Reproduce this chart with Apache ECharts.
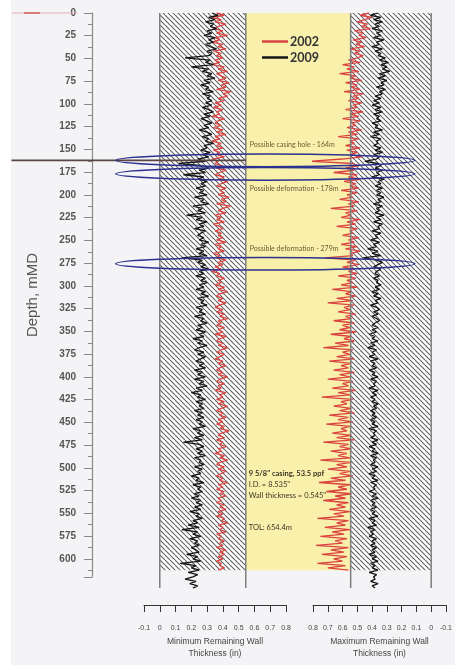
<!DOCTYPE html>
<html><head><meta charset="utf-8">
<script src="https://cdn.jsdelivr.net/npm/echarts@6/dist/echarts.min.js"></script>
<style>html,body{margin:0;padding:0;background:#f4f4f6}#c{width:455px;height:665px}</style>
</head><body><div id="c"></div>
<script>
// ---- data ----
// log samples: one value every depthStep metres, starting at depthStart
const depthStart = 0;
const depthStep = 2.5;

const min2002 = [
0.36,0.41,0.33,0.39,0.35,0.42,0.37,0.34,0.40,0.36,0.43,0.35,0.38,0.33,0.40,0.37,0.42,0.34,0.39,0.36,
0.40,0.35,0.38,0.33,0.41,0.37,0.43,0.36,0.39,0.42,0.37,0.44,0.39,0.42,0.36,0.45,0.40,0.43,0.37,0.41,
0.35,0.39,0.34,0.40,0.36,0.38,0.33,0.41,0.37,0.35,0.39,0.34,0.40,0.36,0.42,0.35,0.38,0.33,0.39,0.36,
0.40,0.34,0.38,0.36,0.41,0.33,0.37,0.35,0.40,0.36,0.42,0.38,0.35,0.41,0.37,0.43,0.39,0.36,0.42,0.38,
0.41,0.37,0.44,0.39,0.42,0.36,0.45,0.40,0.37,0.42,0.35,0.39,0.36,0.41,0.34,0.38,0.40,0.35,0.39,0.37,
0.40,0.36,0.42,0.35,0.39,0.37,0.41,0.34,0.38,0.36,0.42,0.37,0.40,0.35,0.39,0.33,0.38,0.36,0.41,0.37,
0.39,0.35,0.41,0.37,0.43,0.38,0.36,0.40,0.37,0.42,0.38,0.35,0.40,0.36,0.41,0.38,0.43,0.37,0.39,0.36,
0.41,0.37,0.40,0.35,0.42,0.38,0.36,0.40,0.37,0.43,0.39,0.36,0.41,0.38,0.35,0.40,0.37,0.42,0.38,0.36,
0.40,0.37,0.43,0.38,0.36,0.41,0.37,0.39,0.35,0.42,0.38,0.40,0.36,0.41,0.37,0.43,0.39,0.36,0.40,0.38,
0.42,0.37,0.40,0.36,0.41,0.38,0.44,0.39,0.37,0.41,0.36,0.40,0.38,0.42,0.37,0.39,0.35,0.41,0.38,0.43,
0.38,0.36,0.41,0.37,0.42,0.39,0.36,0.40,0.38,0.43,0.37,0.40,0.36,0.41,0.38,0.42,0.37,0.39,0.36,0.41,
0.38,0.42,0.37,0.40,0.36,0.41,0.39,0.43,0.37,0.40,0.38,0.42,0.36,0.39,0.37,0.41,0.38,0.40,0.36,0.42,
0.38,0.41,0.37,0.40,0.36,0.39,0.38,0.41,0.37];

const min2009 = [
0.33,0.37,0.31,0.35,0.29,0.34,0.32,0.36,0.30,0.33,0.28,0.35,0.31,0.34,0.29,0.32,0.36,0.30,0.33,0.31,
0.16,0.32,0.29,0.34,0.20,0.31,0.27,0.33,0.30,0.35,0.28,0.32,0.26,0.31,0.29,0.34,0.27,0.32,0.30,0.33,
0.29,0.33,0.27,0.31,0.34,0.28,0.32,0.26,0.30,0.33,0.28,0.31,0.25,0.30,0.33,0.27,0.31,0.29,0.34,0.28,
0.30,0.26,0.32,0.27,0.31,0.24,0.29,0.12,0.27,0.31,0.25,0.29,0.15,0.28,0.24,0.30,0.26,0.29,0.23,0.28,
0.25,0.30,0.22,0.28,0.26,0.31,0.21,0.27,0.24,0.29,0.17,0.27,0.23,0.30,0.25,0.28,0.22,0.29,0.26,0.24,
0.28,0.25,0.31,0.26,0.29,0.23,0.28,0.25,0.30,0.14,0.27,0.24,0.29,0.26,0.31,0.25,0.28,0.23,0.29,0.26,
0.30,0.25,0.28,0.23,0.29,0.26,0.31,0.24,0.28,0.26,0.30,0.23,0.27,0.25,0.29,0.22,0.28,0.26,0.30,0.24,
0.27,0.23,0.29,0.25,0.28,0.21,0.27,0.24,0.30,0.25,0.22,0.28,0.24,0.29,0.26,0.23,0.28,0.25,0.29,0.22,
0.27,0.24,0.29,0.22,0.28,0.25,0.30,0.23,0.27,0.20,0.26,0.24,0.29,0.23,0.27,0.25,0.28,0.22,0.27,0.24,
0.28,0.23,0.27,0.25,0.29,0.21,0.26,0.24,0.28,0.22,0.27,0.15,0.25,0.28,0.23,0.27,0.24,0.29,0.22,0.26,
0.25,0.28,0.22,0.27,0.24,0.26,0.20,0.25,0.23,0.28,0.21,0.26,0.24,0.27,0.22,0.25,0.20,0.26,0.23,0.27,
0.22,0.26,0.19,0.25,0.23,0.27,0.21,0.24,0.18,0.25,0.14,0.24,0.21,0.26,0.19,0.24,0.22,0.25,0.20,0.23,
0.25,0.17,0.24,0.21,0.26,0.13,0.23,0.20,0.25,0.18,0.24,0.21,0.16,0.23,0.19,0.24,0.21];

const max2002 = [
0.42,0.48,0.40,0.45,0.50,0.43,0.47,0.41,0.52,0.46,0.49,0.44,0.53,0.47,0.51,0.45,0.55,0.48,0.52,0.46,
0.50,0.56,0.48,0.60,0.52,0.57,0.49,0.62,0.51,0.55,0.47,0.58,0.50,0.54,0.48,0.59,0.46,0.53,0.49,0.56,
0.47,0.53,0.50,0.58,0.46,0.55,0.49,0.60,0.48,0.54,0.51,0.57,0.47,0.56,0.50,0.63,0.49,0.55,0.52,0.58,
0.48,0.57,0.50,0.55,0.47,0.60,0.82,0.53,0.49,0.58,0.52,0.66,0.50,0.56,0.48,0.59,0.51,0.55,0.49,0.61,
0.50,0.57,0.53,0.62,0.49,0.56,0.52,0.68,0.50,0.58,0.54,0.61,0.48,0.57,0.51,0.64,0.50,0.55,0.53,0.60,
0.49,0.56,0.52,0.61,0.50,0.58,0.48,0.55,0.53,0.72,0.51,0.57,0.49,0.60,0.52,0.56,0.50,0.63,0.51,0.57,
0.53,0.61,0.50,0.67,0.54,0.58,0.51,0.64,0.53,0.70,0.52,0.59,0.55,0.63,0.51,0.58,0.54,0.66,0.52,0.60,
0.55,0.62,0.51,0.68,0.54,0.59,0.52,0.65,0.56,0.73,0.53,0.60,0.55,0.64,0.52,0.69,0.54,0.61,0.56,0.66,
0.52,0.62,0.55,0.70,0.53,0.60,0.56,0.67,0.51,0.63,0.55,0.74,0.53,0.61,0.57,0.66,0.54,0.62,0.52,0.69,
0.56,0.63,0.53,0.71,0.55,0.61,0.57,0.67,0.54,0.64,0.52,0.73,0.56,0.62,0.54,0.68,0.57,0.63,0.55,0.75,
0.54,0.64,0.57,0.70,0.55,0.62,0.53,0.68,0.58,0.76,0.55,0.63,0.57,0.71,0.54,0.65,0.58,0.73,0.56,0.64,
0.58,0.69,0.55,0.66,0.59,0.77,0.56,0.64,0.58,0.72,0.55,0.67,0.59,0.75,0.57,0.65,0.60,0.78,0.56,0.68,
0.59,0.74,0.57,0.66,0.60,0.77,0.58,0.70,0.56];

const max2009 = [
0.36,0.41,0.34,0.39,0.33,0.38,0.35,0.40,0.33,0.37,0.34,0.39,0.32,0.37,0.35,0.40,0.33,0.38,0.34,0.36,
0.31,0.35,0.29,0.34,0.30,0.33,0.28,0.35,0.31,0.36,0.30,0.34,0.32,0.37,0.31,0.35,0.33,0.38,0.34,0.39,
0.35,0.40,0.34,0.38,0.33,0.39,0.35,0.37,0.34,0.40,0.36,0.38,0.33,0.39,0.35,0.41,0.34,0.37,0.36,0.39,
0.34,0.38,0.33,0.39,0.35,0.37,0.45,0.36,0.34,0.38,0.33,0.37,0.35,0.40,0.32,0.36,0.34,0.38,0.33,0.37,
0.34,0.37,0.32,0.36,0.34,0.39,0.33,0.37,0.35,0.38,0.32,0.37,0.34,0.39,0.33,0.36,0.35,0.40,0.34,0.38,
0.36,0.41,0.35,0.39,0.37,0.43,0.36,0.40,0.34,0.46,0.37,0.33,0.36,0.39,0.34,0.37,0.38,0.35,0.39,0.36,
0.37,0.34,0.38,0.35,0.40,0.36,0.39,0.34,0.38,0.36,0.41,0.37,0.35,0.39,0.36,0.40,0.37,0.35,0.38,0.40,
0.36,0.40,0.37,0.42,0.38,0.40,0.36,0.41,0.38,0.43,0.37,0.40,0.38,0.42,0.36,0.41,0.38,0.40,0.37,0.42,
0.38,0.40,0.36,0.41,0.37,0.39,0.38,0.42,0.36,0.40,0.37,0.41,0.38,0.40,0.36,0.39,0.37,0.41,0.38,0.40,
0.37,0.41,0.38,0.40,0.36,0.42,0.37,0.39,0.38,0.41,0.36,0.40,0.37,0.42,0.38,0.40,0.36,0.41,0.37,0.39,
0.38,0.41,0.36,0.40,0.37,0.42,0.38,0.40,0.36,0.41,0.37,0.39,0.38,0.42,0.37,0.40,0.36,0.41,0.38,0.40,
0.37,0.41,0.38,0.40,0.36,0.42,0.38,0.40,0.37,0.43,0.38,0.41,0.39,0.42,0.37,0.40,0.38,0.41,0.37,0.40,
0.38,0.42,0.37,0.40,0.36,0.41,0.38,0.40,0.36,0.42,0.37,0.39,0.38,0.41,0.36,0.40,0.38];

const seriesNames = ['2002', '2009'];
const wallThickness = 0.545;
const logBottom = 620;
const trackBottom = 640;
const anomalies = [
  {depth: 164, label: 'Possible casing hole - 164m', labelDepth: 147},
  {depth: 179, label: 'Possible deformation - 178m', labelDepth: 196},
  {depth: 279, label: 'Possible deformation - 279m', labelDepth: 262}
];
const infoLines = [
  {text: '9 5/8" casing, 53.5 ppf', depth: 513, bold: true},
  {text: 'I.D. = 8.535"', depth: 525},
  {text: 'Wall thickness = 0.545"', depth: 537},
  {text: 'TOL: 654.4m', depth: 573}
];

// ---- chart ----
const RED = '#da4440', BLACK = '#141414';
const chart = echarts.init(document.getElementById('c'), null, {renderer: 'canvas'});

const hatch = document.createElement('canvas');
const S = 5;
hatch.width = S; hatch.height = S;
(function () {
  const ctx = hatch.getContext('2d');
  ctx.fillStyle = '#ffffff'; ctx.fillRect(0, 0, S, S);
  ctx.strokeStyle = '#5e5e5e'; ctx.lineWidth = 1.1;
  for (const x0 of [-S, 0, S]) { ctx.beginPath(); ctx.moveTo(x0, 0); ctx.lineTo(x0 + S, S); ctx.stroke(); }
})();

const fmt = v => { const r = Math.round(v * 10) / 10; return r === 0 ? '0' : String(r); };
const bottomAxis = (gi, inverse, name) => ({
  gridIndex: gi, type: 'value', min: -0.1, max: 0.8, interval: 0.1, inverse,
  position: 'bottom', offset: 17,
  axisLine: {show: true, onZero: false, lineStyle: {color: '#333', width: 1}},
  axisTick: {show: true, length: 7, lineStyle: {color: '#333'}},
  axisLabel: {fontSize: 7, color: '#444', margin: 19, formatter: fmt, fontFamily: 'Liberation Sans'},
  splitLine: {show: false},
  name, nameLocation: 'middle', nameGap: 29,
  nameTextStyle: {fontSize: 8.5, color: '#444', lineHeight: 12, fontFamily: 'Liberation Sans'}
});
const hiddenDepth = gi => ({gridIndex: gi, type: 'value', min: 0, max: trackBottom, inverse: true, show: false});
const hatchSeries = gi => ({
  type: 'custom', xAxisIndex: gi, yAxisIndex: gi, z: 1, silent: true, clip: false,
  data: [[0, 0, wallThickness, logBottom]],
  renderItem: (p, api) => {
    const a = api.coord([api.value(0), api.value(1)]);
    const b = api.coord([api.value(2), api.value(3)]);
    return {type: 'rect', shape: {x: Math.min(a[0], b[0]), y: a[1], width: Math.abs(b[0] - a[0]), height: b[1] - a[1]},
      style: {fill: {image: hatch, repeat: 'repeat'}}};
  }
});
const lineSeries = (name, gi, vals, color) => ({
  type: 'line', name, xAxisIndex: gi, yAxisIndex: gi, z: color === RED ? 3 : 4,
  data: vals.map((v, i) => [v, depthStart + i * depthStep]),
  symbol: 'none', showSymbol: false, animation: false,
  lineStyle: {width: 1.3, color}, itemStyle: {color}
});

chart.setOption({
  backgroundColor: '#f4f4f6',
  animation: false,
  grid: [
    {left: 92, top: 13, width: 40, height: 564},
    {left: 144, top: 13, width: 142, height: 582.2},
    {left: 313, top: 13, width: 142, height: 582.2}
  ],
  xAxis: [
    {gridIndex: 0, type: 'value', min: 0, max: 1, show: false},
    bottomAxis(1, false, 'Minimum Remaining Wall\nThickness (in)'),
    bottomAxis(2, true, 'Maximum Remaining Wall\nThickness (in)')
  ],
  yAxis: [
    {gridIndex: 0, type: 'value', min: 0, max: logBottom, interval: 25, inverse: true,
     axisLine: {show: true, lineStyle: {color: '#8a8a8a', width: 1.2}},
     axisTick: {show: true, length: 8, lineStyle: {color: '#8a8a8a'}},
     minorTick: {show: true, splitNumber: 2, length: 4, lineStyle: {color: '#8a8a8a'}},
     axisLabel: {fontSize: 10, fontWeight: 'bold', color: '#555', margin: 16, showMaxLabel: false, fontFamily: 'Liberation Sans'},
     splitLine: {show: false},
     name: 'Depth, mMD', nameLocation: 'middle', nameGap: 52,
     nameTextStyle: {fontSize: 15, color: '#555', fontFamily: 'Liberation Sans'}},
    hiddenDepth(1), hiddenDepth(2)
  ],
  legend: {
    data: seriesNames, orient: 'vertical', left: 257, top: 30, icon: 'rect', itemWidth: 26, itemHeight: 2.5, itemGap: 3,
    textStyle: {fontSize: 12.5, fontWeight: 'bold', color: '#333', fontFamily: 'Lato', padding: [0, 0, 0, -3]}
  },
  series: [
    hatchSeries(1), hatchSeries(2),
    lineSeries(seriesNames[0], 1, min2002, RED),
    lineSeries(seriesNames[1], 1, min2009, BLACK),
    lineSeries(seriesNames[0], 2, max2002, RED),
    lineSeries(seriesNames[1], 2, max2009, BLACK)
  ]
});

const P = (gi, x, y) => chart.convertToPixel({gridIndex: gi}, [x, y]);
const g = [];
g.push({type: 'rect', z: -5, silent: true, shape: {x: 0, y: 0, width: 11, height: 665}, style: {fill: '#ffffff'}});
// yellow band between the tracks
const yl = P(1, wallThickness, 0), yr = P(2, wallThickness, logBottom);
g.push({type: 'rect', z: -1, silent: true, shape: {x: yl[0], y: yl[1], width: yr[0] - yl[0], height: yr[1] - yl[1]}, style: {fill: '#f9f0ab'}});
// track borders
for (const gi of [1, 2]) for (const v of [0, wallThickness]) {
  const a = P(gi, v, 0), b = P(gi, v, trackBottom);
  g.push({type: 'line', z: 6, silent: true, shape: {x1: a[0], y1: a[1], x2: b[0], y2: b[1]}, style: {stroke: '#7d7d7d', lineWidth: 1.5}});
}
// top faint line and casing-hole line
{
  const a = P(1, -0.94, 0), b = P(1, -0.52, 0);
  g.push({type: 'line', z: 6, silent: true, shape: {x1: a[0], y1: a[1], x2: b[0], y2: b[1]}, style: {stroke: '#e7b0b0', lineWidth: 1}});
  const c = P(1, -0.86, 0), d = P(1, -0.76, 0);
  g.push({type: 'line', z: 6, silent: true, shape: {x1: c[0], y1: c[1], x2: d[0], y2: d[1]}, style: {stroke: '#c84040', lineWidth: 1.2}});
  const h1 = P(1, -0.94, anomalies[0].depth), h2 = P(1, wallThickness, anomalies[0].depth);
  g.push({type: 'line', z: 7, silent: true, shape: {x1: h1[0], y1: h1[1], x2: h2[0], y2: h2[1]}, style: {stroke: '#5a4444', lineWidth: 1.6}});
}
// ellipses and labels
for (const a of anomalies) {
  const l = P(1, -0.28, a.depth), r = P(2, 0.11, a.depth), t = P(1, 0, a.depth + 7);
  g.push({type: 'ellipse', z: 20, silent: true, shape: {cx: (l[0] + r[0]) / 2, cy: l[1], rx: (r[0] - l[0]) / 2, ry: t[1] - l[1]},
    style: {fill: null, stroke: '#2c3290', lineWidth: 1.5}});
  const tp = P(1, wallThickness, a.labelDepth);
  g.push({type: 'text', z: 21, silent: true, x: tp[0] + 4, y: tp[1],
    style: {text: a.label, fill: '#6a5c36', fontSize: 7, fontFamily: 'Lato', verticalAlign: 'middle', align: 'left'}});
}
for (const ln of infoLines) {
  const tp = P(1, wallThickness, ln.depth);
  g.push({type: 'text', z: 21, silent: true, x: tp[0] + 3, y: tp[1],
    style: {text: ln.text, fill: '#3b3626', fontSize: 7.5, fontWeight: ln.bold ? 'bold' : 'normal', fontFamily: 'Lato', verticalAlign: 'middle', align: 'left'}});
}
chart.setOption({graphic: {elements: g}});
</script></body></html>
